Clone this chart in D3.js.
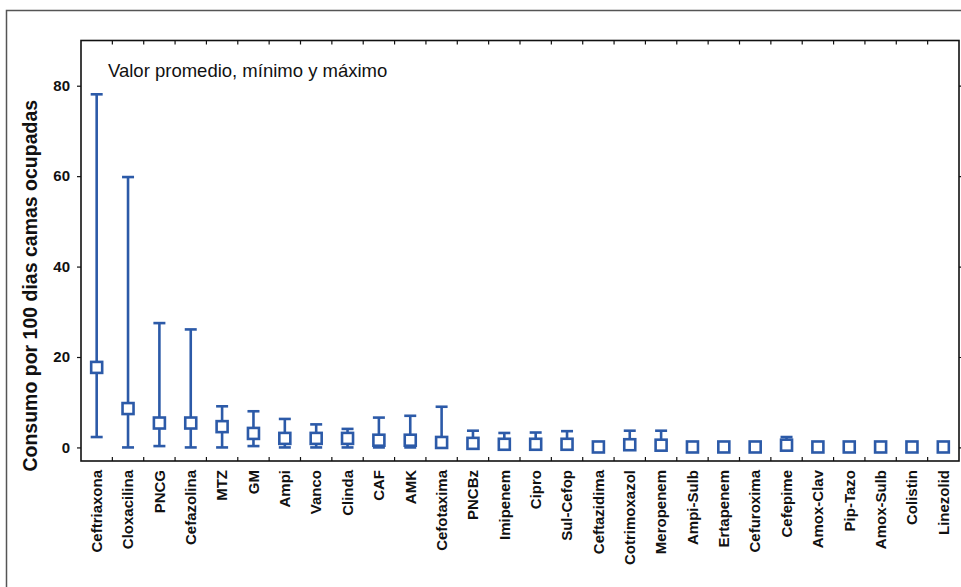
<!DOCTYPE html>
<html>
<head>
<meta charset="utf-8">
<script src="https://cdn.jsdelivr.net/npm/d3@7"></script>
<style>
    body { margin: 0; background: #fff; }
    svg { display: block; font-family: "Liberation Sans", Arial, sans-serif; }
    .tick-lab { font-weight: bold; font-size: 15px; fill: #111; }
</style>
</head>
<body>
<div id="chart"></div>
<script>
// Antibiotic names (x categories)
var drugs = ["Ceftriaxona", "Cloxacilina", "PNCG", "Cefazolina", "MTZ", "GM", "Ampi", "Vanco",
    "Clinda", "CAF", "AMK", "Cefotaxima", "PNCBz", "Imipenem", "Cipro", "Sul-Cefop", "Ceftazidima",
    "Cotrimoxazol", "Meropenem", "Ampi-Sulb", "Ertapenem", "Cefuroxima", "Cefepime", "Amox-Clav",
    "Pip-Tazo", "Amox-Sulb", "Colistin", "Linezolid"];

// Mean, minimum and maximum consumption per 100 bed-days
var meanVals = [17.7, 8.6, 5.4, 5.4, 4.6, 3.1, 2.0, 2.0, 2.0, 1.6, 1.6, 1.1, 0.9, 0.7, 0.7, 0.7, 0.1,
    0.6, 0.5, 0.1, 0.1, 0.1, 0.5, 0.1, 0.1, 0.1, 0.1, 0.1];
var minVals = [2.3, 0, 0.3, 0, 0, 0.3, 0, 0, 0, 0, 0, 0, 0, 0, 0, 0, 0,
    0, 0, 0, 0, 0, 0, 0, 0, 0, 0, 0];
var maxVals = [78.1, 59.8, 27.5, 26.1, 9.1, 8.0, 6.3, 5.1, 4.1, 6.6, 7.0, 9.0, 3.7, 3.2, 3.3, 3.6, 0.1,
    3.7, 3.7, 0.1, 0.1, 0.1, 2.3, 0.1, 0.1, 0.1, 0.1, 0.1];

var yTicks = [0, 20, 40, 60, 80];

var svgWidth = 961, svgHeight = 587;
var plot = { left: 81, right: 959, top: 40.5, bottom: 461 };
var blue = "#2c5aa8";

var data = drugs.map(function(d, i) {
    return { name: d, mean: meanVals[i], min: minVals[i], max: maxVals[i] };
});

var svg = d3.select("#chart").append("svg")
    .attr("width", svgWidth)
    .attr("height", svgHeight);

// outer frame (only top and left are inside the picture)
svg.append("path")
    .attr("d", "M6.5," + svgHeight + "V10.5H" + svgWidth)
    .attr("fill", "none")
    .attr("stroke", "#555")
    .attr("stroke-width", 1.5);

var x = d3.scaleBand()
    .domain(drugs)
    .range([plot.left, plot.right]);

// index scale for the ticks between categories
var xi = d3.scaleLinear()
    .domain([0, drugs.length])
    .range([plot.left, plot.right]);

var y = d3.scaleLinear()
    .domain([-3, 90])
    .range([plot.bottom, plot.top]);

// Y axis left
svg.append("g")
    .attr("transform", "translate(" + plot.left + ",0)")
    .call(d3.axisLeft(y).tickValues(yTicks).tickSize(4).tickPadding(7))
    .call(function(g) {
        g.select(".domain").remove();
        g.selectAll("line").attr("stroke", "#111").attr("stroke-width", 1.2);
        g.selectAll("text").attr("class", "tick-lab").attr("font-size", null).attr("font-family", null);
    });

// Y axis right
svg.append("g")
    .attr("transform", "translate(" + plot.right + ",0)")
    .call(d3.axisRight(y).tickValues(yTicks).tickSize(3).tickFormat(""))
    .call(function(g) {
        g.select(".domain").remove();
        g.selectAll("line").attr("stroke", "#111").attr("stroke-width", 1.2);
    });

// ticks between categories, bottom and top
var sep = d3.range(1, drugs.length);
svg.append("g").selectAll("line")
    .data(sep)
    .join("line")
        .attr("x1", d => xi(d)).attr("x2", d => xi(d))
        .attr("y1", plot.bottom).attr("y2", plot.bottom - 4)
        .attr("stroke", "#111").attr("stroke-width", 1.2);
svg.append("g").selectAll("line")
    .data(sep)
    .join("line")
        .attr("x1", d => xi(d)).attr("x2", d => xi(d))
        .attr("y1", plot.top).attr("y2", plot.top + 4)
        .attr("stroke", "#111").attr("stroke-width", 1.2);

// plot frame
svg.append("rect")
    .attr("x", plot.left)
    .attr("y", plot.top)
    .attr("width", plot.right - plot.left)
    .attr("height", plot.bottom - plot.top)
    .attr("fill", "none")
    .attr("stroke", "#111")
    .attr("stroke-width", 1.6);

// X labels, rotated
svg.append("g")
    .attr("transform", "translate(0," + plot.bottom + ")")
    .call(d3.axisBottom(x).tickSize(0).tickPadding(0))
    .call(function(g) {
        g.select(".domain").remove();
        g.selectAll("text")
            .attr("class", "tick-lab")
            .attr("font-size", null).attr("font-family", null)
            .attr("transform", "rotate(-90)")
            .attr("x", -9)
            .attr("y", 0)
            .attr("dy", "0.35em")
            .style("text-anchor", "end");
    });

// Y axis title
svg.append("text")
    .attr("transform", "rotate(-90)")
    .attr("x", -(plot.top + plot.bottom) / 2 - 35)
    .attr("y", 37)
    .attr("font-weight", "bold")
    .attr("font-size", 19.5)
    .attr("fill", "#111")
    .style("text-anchor", "middle")
    .text("Consumo por 100 dias camas ocupadas");

// inner caption
svg.append("text")
    .attr("x", 108)
    .attr("y", 77)
    .attr("font-size", 18.5)
    .attr("fill", "#111")
    .text("Valor promedio, mínimo y máximo");

// whiskers
var cap = 6;
var g = svg.append("g")
    .attr("stroke", blue)
    .attr("stroke-width", 2.6)
    .attr("fill", "none");

var withRange = data.filter(d => d.max > d.mean || d.min < d.mean - 0.5);
var cx = d => x(d.name) + x.bandwidth() / 2;

g.selectAll(".whisk")
    .data(withRange)
    .join("line")
        .attr("class", "whisk")
        .attr("x1", cx).attr("x2", cx)
        .attr("y1", d => y(d.min)).attr("y2", d => y(d.max));
g.selectAll(".capTop")
    .data(withRange.filter(d => d.max > d.mean))
    .join("line")
        .attr("class", "capTop")
        .attr("x1", d => cx(d) - cap).attr("x2", d => cx(d) + cap)
        .attr("y1", d => y(d.max)).attr("y2", d => y(d.max));
g.selectAll(".capBot")
    .data(withRange)
    .join("line")
        .attr("class", "capBot")
        .attr("x1", d => cx(d) - cap).attr("x2", d => cx(d) + cap)
        .attr("y1", d => y(d.min)).attr("y2", d => y(d.min));

// mean boxes
var half = 5.5;
g.selectAll(".meanBox")
    .data(data)
    .join("rect")
        .attr("class", "meanBox")
        .attr("x", d => cx(d) - half)
        .attr("y", d => y(d.mean) - half)
        .attr("width", half * 2)
        .attr("height", half * 2)
        .attr("fill", "#fff");
</script>
</body>
</html>
